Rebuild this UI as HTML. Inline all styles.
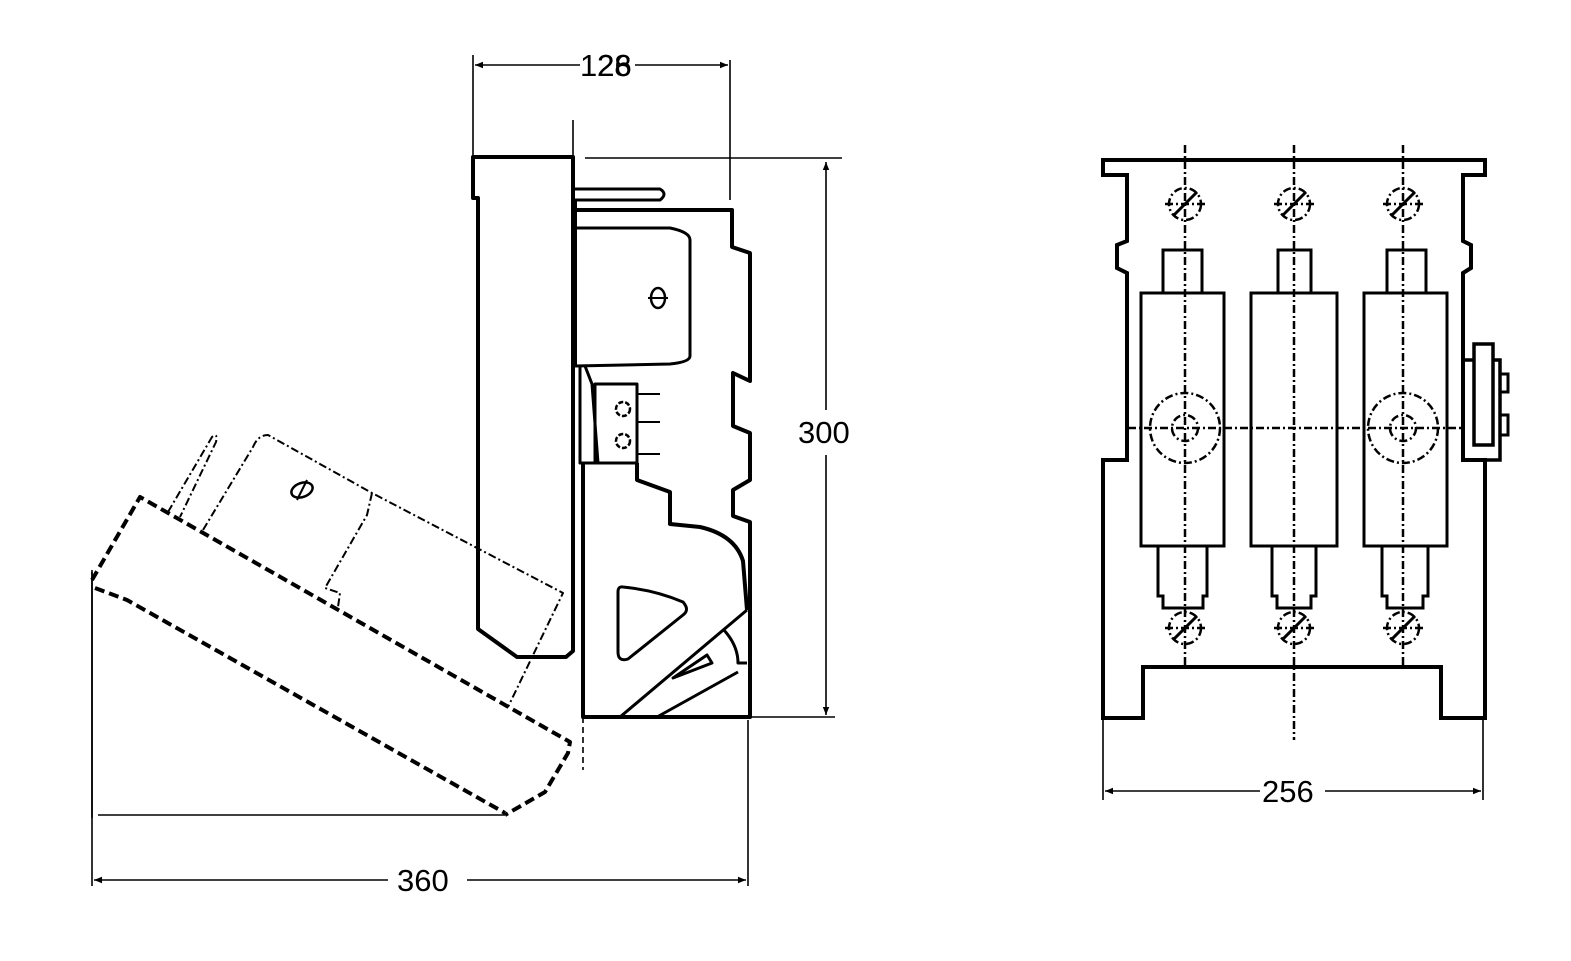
<!DOCTYPE html>
<html><head><style>html,body{margin:0;padding:0;background:#fff}svg{display:block}</style></head>
<body>
<svg width="1571" height="961" viewBox="0 0 1571 961" xmlns="http://www.w3.org/2000/svg">
<defs>
<marker id="a" viewBox="0 0 10 10" refX="10" refY="5" markerWidth="12" markerHeight="8" orient="auto-start-reverse" markerUnits="userSpaceOnUse"><path d="M0,1 L10,5 L0,9 z" fill="#000"/></marker>
</defs>
<g fill="none" stroke="#000" stroke-linejoin="round">
<!-- left view: dimensions -->
<g stroke-width="1.6">
<line x1="473" y1="55" x2="473" y2="157"/>
<line x1="730" y1="60" x2="730" y2="200"/>
<line x1="573" y1="120" x2="573" y2="215"/>
<line x1="475" y1="65" x2="580" y2="65" marker-start="url(#a)"/>
<line x1="635" y1="65" x2="728" y2="65" marker-end="url(#a)"/>
<line x1="585" y1="158" x2="842" y2="158"/>
<line x1="750" y1="717" x2="835" y2="717"/>
<line x1="826" y1="162" x2="826" y2="410" marker-start="url(#a)"/>
<line x1="826" y1="455" x2="826" y2="715" marker-end="url(#a)"/>
<line x1="92" y1="570" x2="92" y2="886"/>
<line x1="748" y1="720" x2="748" y2="886"/>
<line x1="94" y1="880" x2="388" y2="880" marker-start="url(#a)"/>
<line x1="467" y1="880" x2="746" y2="880" marker-end="url(#a)"/>
<line x1="583" y1="717" x2="583" y2="770" stroke-dasharray="6 4"/>
</g>
<!-- cover -->
<path stroke-width="4" d="M473,157 L573,157 L573,651 L566,657 L517,657 L478,629 L478,198 L473,198 Z"/>
<path stroke-width="3" d="M575,189 L660,189 Q668,194 660,200 L575,200"/>
<!-- body -->
<path stroke-width="4" d="M575,210 L732,210 L732,247 L750,253 L750,381 L733,373 L733,426 L750,433 L750,480 L733,490 L733,516 L750,522 L750,717 L583,717 L583,463"/>
<line x1="575" y1="200" x2="575" y2="366" stroke-width="4"/>
<path stroke-width="3" d="M575,228 L670,228 Q690,232 690,240 L690,356 Q690,362 670,364 L575,366"/>
<path stroke-width="3" d="M580,366 L580,463 L598,463 L592,384 L585,366"/>
<rect x="595" y="384" width="42" height="79" stroke-width="3"/>
<circle cx="623" cy="409" r="7" stroke-width="2.5" stroke-dasharray="5 2"/>
<circle cx="623" cy="441" r="7" stroke-width="2.5" stroke-dasharray="5 2"/>
<path stroke-width="2" d="M637,394 H660 M637,422 H660 M637,454 H660"/>
<path stroke-width="4" d="M637,463 L637,480 L670,492 L670,524 L700,527 Q735,535 743,561 L747,610"/>
<path stroke-width="3" d="M747,610 L620,717 M738,672 L657,717 M723,629 Q738,645 738,663 L747,663 M673,678 L707,655 L712,663 Z"/>
<path stroke-width="3" d="M623,587 Q655,590 683,602 Q690,610 683,615 L628,659 Q618,662 618,652 L618,592 Q618,586 623,587 Z"/>
<ellipse cx="658" cy="298" rx="7" ry="10" stroke-width="2.5"/>
<path d="M648,298 H668" stroke-width="2"/>
<!-- opened cover dashed -->
<path stroke-width="1.6" d="M92,572 L92,818 M98,815 L505,815"/>
<path stroke-width="4" stroke-dasharray="10 5" d="M92,580 L140,497 L570,742 L568,753 L545,792 L505,815"/>
<path stroke-width="4" stroke-dasharray="10 5" d="M95,588 L127,600 L505,813"/>
<path stroke-width="2" stroke-dasharray="8 3 2 3" d="M203,530 L253,447 Q258,435 268,435 L372,493 L563,593 L508,707 M372,493 L367,515 L325,588 L340,593 L338,607"/>
<path stroke-width="2" stroke-dasharray="8 3 2 3" d="M168,512 L212,437 Q218,432 216,442 L180,517"/>
<ellipse cx="302" cy="490" rx="11" ry="7" transform="rotate(-20 302 490)" stroke-width="2.5"/>
<path d="M297,500 L307,480" stroke-width="2"/>
</g>
<!-- right view -->
<g fill="none" stroke="#000">
<path stroke-width="4" d="M1103,160 L1485,160 L1485,175 L1463,175 L1463,241 L1471,245 L1471,268 L1463,273 L1463,460 L1485,460 L1485,718 L1441,718 L1441,667 L1143,667 L1143,718 L1103,718 L1103,460 L1127,460 L1127,273 L1117,268 L1117,245 L1127,241 L1127,175 L1103,175 Z"/>
<rect x="1463" y="360" width="37" height="100" stroke-width="3.5"/>
<rect x="1474" y="344" width="19" height="101" stroke-width="3.5" fill="#fff"/>
<rect x="1500" y="374" width="8" height="18" stroke-width="3"/>
<rect x="1500" y="415" width="8" height="20" stroke-width="3"/>
<g stroke-width="3">
<rect x="1141" y="293" width="83" height="253"/>
<rect x="1251" y="293" width="86" height="253"/>
<rect x="1364" y="293" width="83" height="253"/>
<rect x="1163" y="250" width="39" height="43"/>
<rect x="1278" y="250" width="33" height="43"/>
<rect x="1387" y="250" width="39" height="43"/>
<path d="M1158,546 V596 H1163 V608 H1203 V596 H1207 V546"/>
<path d="M1272,546 V596 H1277 V608 H1311 V596 H1316 V546"/>
<path d="M1382,546 V596 H1387 V608 H1423 V596 H1428 V546"/>
</g>
<g stroke-width="2.5" stroke-dasharray="8 3 2 3">
<line x1="1185" y1="145" x2="1185" y2="668"/>
<line x1="1294" y1="145" x2="1294" y2="740"/>
<line x1="1403" y1="145" x2="1403" y2="668"/>
<line x1="1128" y1="428" x2="1463" y2="428"/>
<circle cx="1185" cy="428" r="35"/><circle cx="1185" cy="428" r="13"/>
<circle cx="1403" cy="428" r="35"/><circle cx="1403" cy="428" r="13"/>
<circle cx="1185" cy="204" r="16"/><circle cx="1294" cy="204" r="16"/><circle cx="1403" cy="204" r="16"/>
<circle cx="1185" cy="628" r="16"/><circle cx="1294" cy="628" r="16"/><circle cx="1403" cy="628" r="16"/>
<path d="M1165,204 H1205 M1274,204 H1314 M1383,204 H1423 M1165,628 H1205 M1274,628 H1314 M1383,628 H1423"/>
</g>
<g stroke-width="3">
<path d="M1173,216 L1197,192 M1282,216 L1306,192 M1391,216 L1415,192 M1173,640 L1197,616 M1282,640 L1306,616 M1391,640 L1415,616"/>
</g>
<g stroke-width="1.6">
<line x1="1103" y1="718" x2="1103" y2="800"/>
<line x1="1483" y1="718" x2="1483" y2="800"/>
<line x1="1105" y1="791" x2="1260" y2="791" marker-start="url(#a)"/>
<line x1="1325" y1="791" x2="1481" y2="791" marker-end="url(#a)"/>
</g>
</g>
<g font-family="Liberation Sans, sans-serif" font-size="31" fill="#000">
<text x="580" y="76">126</text>
<text x="597" y="76">28</text>
<text x="798" y="443">300</text>
<text x="397" y="891">360</text>
<text x="1262" y="802">256</text>
</g>
</svg>
</body></html>
